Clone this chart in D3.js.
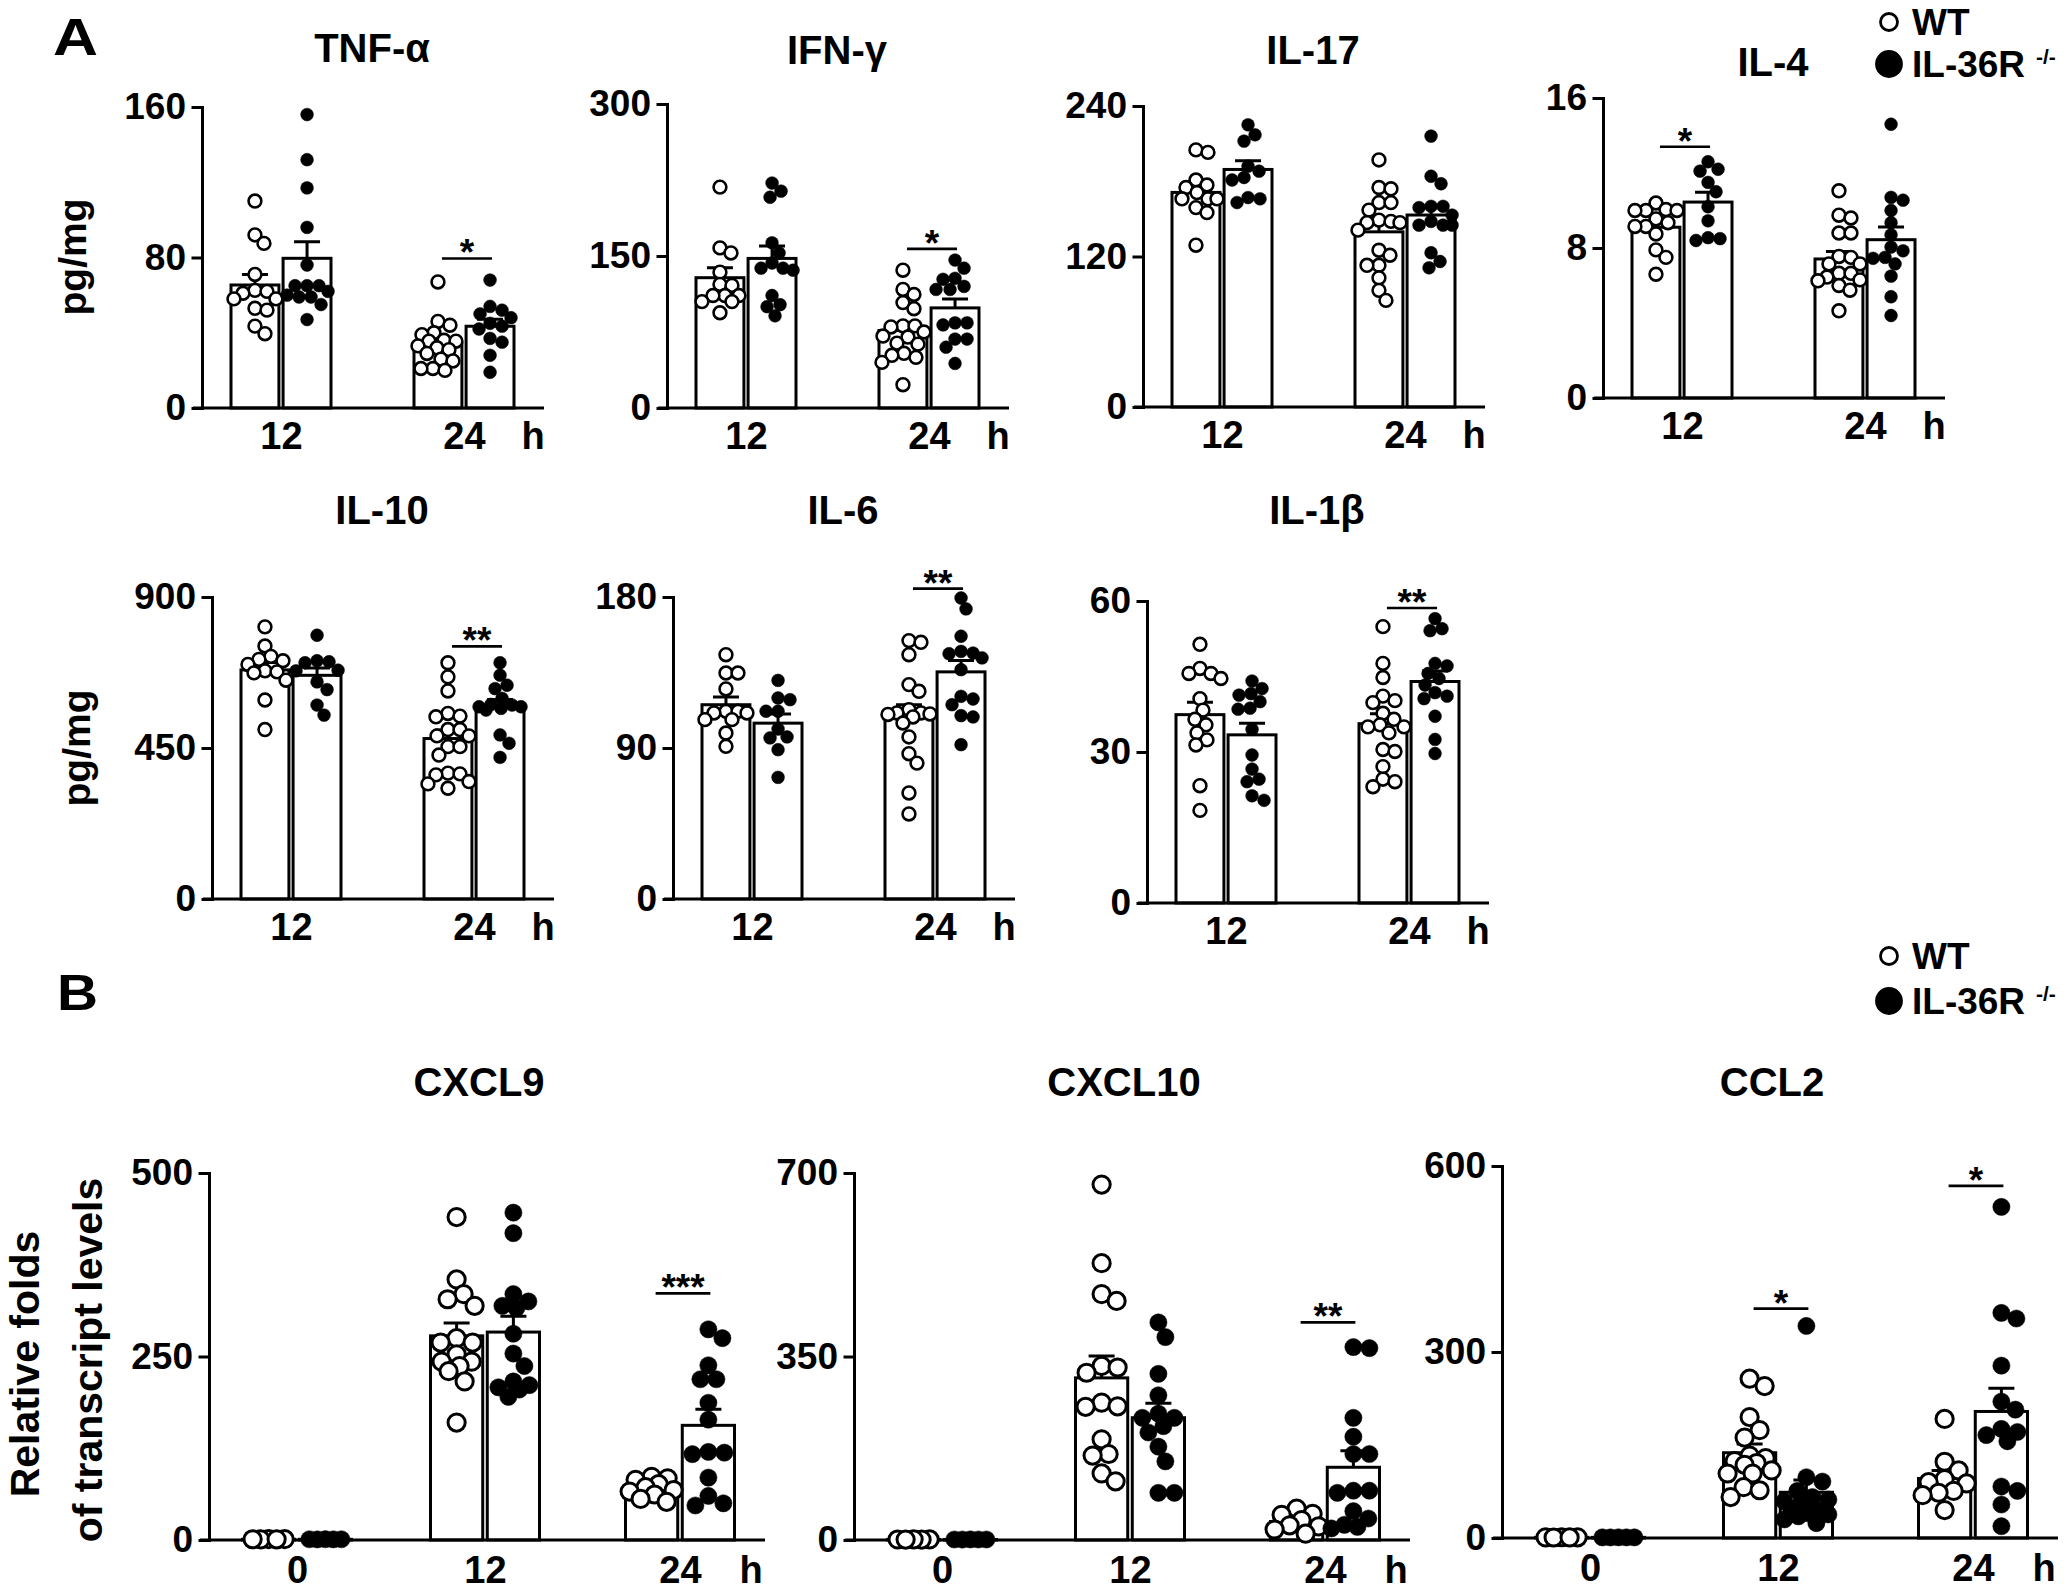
<!DOCTYPE html>
<html lang="en">
<head>
<meta charset="UTF-8">
<title>IL-36R cytokines and chemokines</title>
<style>
    body { margin: 0; background: #fff; }
    svg text { font-family: "Liberation Sans", Arial, sans-serif; font-weight: bold; fill: #000; }
</style>
</head>
<body>
<svg id="fig" width="2070" height="1592"></svg>

<script src="https://d3js.org/d3.v7.min.js"></script>
<script>
// ---------- data ----------
const hoursA = ["12", "24"];
const hoursB = ["0", "12", "24"];
const groups = ["WT", "IL-36R"];

// TNF-alpha, pg/mg
const tnfTicks = [0, 80, 160];
const tnfWT12 = [110, 92, 87.5, 71, 62.5, 62, 61, 58, 58, 53, 52, 43.5, 39.5];
const tnfKO12 = [156, 132, 117, 96, 76, 65, 65, 65, 62, 60, 59, 59, 55, 47];
const tnfWT24 = [67, 46, 44, 40, 39, 36, 35.5, 35.5, 33, 32, 31, 29, 26, 25, 21, 21, 20];
const tnfKO24 = [68, 54, 52, 50, 48, 45, 43.5, 42, 37, 35, 28, 19];
const tnfSig = [{ hour: "24", text: "*", value: 79.5 }];

// IFN-gamma
const ifnTicks = [0, 150, 300];
const ifnWT12 = [218, 158, 153, 134, 122, 121, 111, 111, 111, 105, 105, 94];
const ifnKO12 = [222, 214, 208, 163, 153, 143, 138, 138, 136, 111, 102, 100, 91];
const ifnWT24 = [136, 117, 112, 104, 98, 81, 81, 80, 75, 71, 70, 64, 63, 54, 52, 50, 45, 23];
const ifnKO24 = [146, 138, 128, 127, 120, 117, 117, 84, 84, 82, 68, 68, 60, 44];
const ifnSig = [{ hour: "24", text: "*", value: 157 }];

// IL-17
const il17Ticks = [0, 120, 240];
const il17WT12 = [205, 203, 181, 177, 175, 171, 166, 166, 166, 159, 155, 129];
const il17KO12 = [225, 217, 212, 192, 188, 183, 181, 167, 166, 163];
const il17WT24 = [197, 175, 174, 163, 163, 157, 149, 148, 147, 147, 141, 125, 121, 113, 113, 103, 93, 85];
const il17KO24 = [216, 184, 178, 160, 160, 159, 153, 148, 145, 145, 145, 123, 116, 111];
const il17Sig = [];

// IL-4
const il4Ticks = [0, 8, 16];
const il4WT12 = [10.4, 10.05, 10, 10, 10, 9.55, 9.35, 9.15, 9.15, 8.75, 7.9, 7.5, 6.6];
const il4KO12 = [12.6, 12.2, 12.1, 11.5, 11, 10.2, 9.45, 8.55, 8.5, 8.4];
const il4WT24 = [11.05, 9.75, 9.6, 8.8, 8.8, 7.55, 7.5, 7.15, 7.15, 6.65, 6.65, 6.45, 6.3, 6.25, 6, 5.75, 4.65];
const il4KO24 = [14.6, 10.7, 10.55, 10, 9.35, 8.7, 8.05, 7.85, 7.5, 7.45, 7.15, 6.5, 5.4, 4.4];
const il4Sig = [{ hour: "12", text: "*", value: 13.4 }];

// IL-10
const il10Ticks = [0, 450, 900];
const il10WT12 = [811, 754, 723, 714, 710, 699, 680, 677, 674, 652, 593, 505];
const il10KO12 = [786, 710, 707, 704, 682, 680, 647, 624, 578, 548];
const il10WT24 = [704, 662, 620, 553, 545, 543, 505, 505, 486, 486, 454, 454, 429, 375, 373, 370, 350, 343, 330];
const il10KO24 = [704, 667, 637, 627, 598, 580, 578, 573, 573, 568, 563, 489, 464, 422];
const il10Sig = [{ hour: "24", text: "**", value: 753 }];

// IL-6
const il6Ticks = [0, 90, 180];
const il6WT12 = [145.6, 134.7, 134.7, 125.2, 111.9, 111.9, 110.9, 110.9, 106.9, 106.9, 98.9, 91];
const il6KO12 = [130.3, 119.8, 118.8, 111.9, 111.9, 101.3, 96.6, 96, 89, 72.5];
const il6WT24 = [154, 153, 145.6, 127.8, 123.8, 112.9, 110.9, 110.9, 110.3, 110, 108.5, 104.9, 96.6, 86.6, 81, 63.2, 50.7];
const il6KO24 = [179.4, 172.9, 156.6, 147.6, 146.6, 146.2, 143.7, 136.7, 120.8, 119.2, 115.8, 109.3, 108.5, 92];
const il6Sig = [{ hour: "24", text: "**", value: 185 }];

// IL-1beta
const il1bTicks = [0, 30, 60];
const il1bWT12 = [51.4, 46.6, 45.6, 45.6, 44.6, 40.6, 38.3, 36.5, 35.4, 33.8, 32.4, 31.4, 23.3, 18.4];
const il1bKO12 = [44.1, 42.6, 41.6, 41.3, 40, 38.7, 38.5, 34.5, 29.4, 26.6, 24.6, 24.1, 21.3, 20.4];
const il1bWT24 = [54.9, 47.6, 44.8, 41.1, 40.2, 39.8, 37.7, 36.5, 35.4, 35, 35, 33.8, 30.5, 30.1, 27.1, 24.6, 24.1, 23.1];
const il1bKO24 = [56.5, 54.5, 54.1, 47.6, 47.1, 45.6, 44.6, 43.3, 41.8, 41.1, 40.6, 37.1, 32.5, 29.7];
const il1bSig = [{ hour: "24", text: "**", value: 58.6 }];

// CXCL9, relative folds
const cxcl9Ticks = [0, 250, 500];
const cxcl9WT0 = [1.2, 0.8, 1, 1.1, 0.9];
const cxcl9KO0 = [1, 0.9, 1.1, 1, 0.8];
const cxcl9WT12 = [440, 355, 335, 328, 319, 275, 269, 269, 253, 243, 243, 237, 230, 216, 160];
const cxcl9KO12 = [446, 418, 335, 325, 319, 316, 281, 254, 237, 216, 211, 208, 205, 195];
const cxcl9WT24 = [86, 84, 82, 76, 72, 68, 66, 62, 56, 52];
const cxcl9KO24 = [287, 275, 238, 219, 219, 187, 164, 120, 119, 117, 85, 60, 50, 47];
const cxcl9Sig = [{ hour: "24", text: "***", value: 336 }];

// CXCL10
const cxcl10Ticks = [0, 350, 700];
const cxcl10WT0 = [1.1, 0.9, 1, 1.2, 0.8];
const cxcl10KO0 = [1, 1.1, 0.9, 1, 1];
const cxcl10WT12 = [678, 528, 469, 456, 332, 329, 319, 262, 255, 254, 192, 164, 161, 127, 112];
const cxcl10KO12 = [415, 387, 317, 276, 241, 233, 233, 217, 205, 178, 150, 90, 90];
const cxcl10WT24 = [60, 50, 48, 38, 28, 26, 20, 12];
const cxcl10KO24 = [368, 366, 233, 197, 164, 164, 94, 94, 90, 55, 41, 29, 25, 22];
const cxcl10Sig = [{ hour: "24", text: "**", value: 415 }];

// CCL2
const ccl2Ticks = [0, 300, 600];
const ccl2WT0 = [1, 1.2, 0.8, 1.1, 0.9];
const ccl2KO0 = [1, 0.9, 1.1, 1, 1];
const ccl2WT12 = [257, 245, 195, 174, 162, 133, 129, 124, 121, 118, 109, 104, 104, 82, 77, 66];
const ccl2KO12 = [342, 98, 91, 76, 66, 62, 59, 55, 45, 45, 40, 38, 35, 30, 24];
const ccl2WT24 = [192, 123, 109, 95, 90, 88, 76, 73, 69, 45];
const ccl2KO24 = [534, 363, 354, 278, 220, 207, 176, 171, 166, 156, 83, 76, 54, 19];
const ccl2Sig = [{ hour: "12", text: "*", value: 370 }, { hour: "24", text: "*", value: 568 }];

// ---------- layout ----------
const styleA = { groupPos: [79, 262], lineEnd: 342, hPos: 331, barRange: [-50, 50],
                 r: 6.4, sw: 2.6, maxHalf: 21, titleDx: 170, labelDy: 41 };
const styleB = { groupPos: [88, 276, 471], lineEnd: 556, hPos: 542, barRange: [-54.5, 54.5],
                 r: 8.6, sw: 3, maxHalf: 22, titleDx: 270, labelDy: 43 };

const panels = [
    { title: "TNF-α", ticks: tnfTicks, hours: hoursA, sig: tnfSig, style: styleA,
      data: { "12": [tnfWT12, tnfKO12], "24": [tnfWT24, tnfKO24] },
      box: { x: 202, top: 107, bottom: 408, titleY: 62 } },
    { title: "IFN-γ", ticks: ifnTicks, hours: hoursA, sig: ifnSig, style: styleA,
      data: { "12": [ifnWT12, ifnKO12], "24": [ifnWT24, ifnKO24] },
      box: { x: 667, top: 104, bottom: 408, titleY: 64 } },
    { title: "IL-17", ticks: il17Ticks, hours: hoursA, sig: il17Sig, style: styleA,
      data: { "12": [il17WT12, il17KO12], "24": [il17WT24, il17KO24] },
      box: { x: 1143, top: 106, bottom: 407, titleY: 64 } },
    { title: "IL-4", ticks: il4Ticks, hours: hoursA, sig: il4Sig, style: styleA,
      data: { "12": [il4WT12, il4KO12], "24": [il4WT24, il4KO24] },
      box: { x: 1603, top: 98, bottom: 398, titleY: 76 } },
    { title: "IL-10", ticks: il10Ticks, hours: hoursA, sig: il10Sig, style: styleA,
      data: { "12": [il10WT12, il10KO12], "24": [il10WT24, il10KO24] },
      box: { x: 212, top: 597, bottom: 899, titleY: 524 } },
    { title: "IL-6", ticks: il6Ticks, hours: hoursA, sig: il6Sig, style: styleA,
      data: { "12": [il6WT12, il6KO12], "24": [il6WT24, il6KO24] },
      box: { x: 673, top: 597, bottom: 899, titleY: 524 } },
    { title: "IL-1β", ticks: il1bTicks, hours: hoursA, sig: il1bSig, style: styleA,
      data: { "12": [il1bWT12, il1bKO12], "24": [il1bWT24, il1bKO24] },
      box: { x: 1147, top: 601, bottom: 903, titleY: 524 } },
    { title: "CXCL9", ticks: cxcl9Ticks, hours: hoursB, sig: cxcl9Sig, style: styleB,
      data: { "0": [cxcl9WT0, cxcl9KO0], "12": [cxcl9WT12, cxcl9KO12], "24": [cxcl9WT24, cxcl9KO24] },
      box: { x: 209, top: 1173, bottom: 1540, titleY: 1096 } },
    { title: "CXCL10", ticks: cxcl10Ticks, hours: hoursB, sig: cxcl10Sig, style: styleB,
      data: { "0": [cxcl10WT0, cxcl10KO0], "12": [cxcl10WT12, cxcl10KO12], "24": [cxcl10WT24, cxcl10KO24] },
      box: { x: 854, top: 1173, bottom: 1540, titleY: 1096 } },
    { title: "CCL2", ticks: ccl2Ticks, hours: hoursB, sig: ccl2Sig, style: styleB,
      data: { "0": [ccl2WT0, ccl2KO0], "12": [ccl2WT12, ccl2KO12], "24": [ccl2WT24, ccl2KO24] },
      box: { x: 1502, top: 1166, bottom: 1538, titleY: 1096 } }
];

const svg = d3.select("#fig");

// simple beeswarm: nearest free x offset, squeezed inside maxHalf
function swarm(vals, y, r, maxHalf) {
    const minD = 2 * r * 0.93;
    const order = d3.range(vals.length).sort((a, b) => vals[b] - vals[a]);
    const placed = [];
    const out = new Array(vals.length);
    order.forEach(i => {
        const py = y(vals[i]);
        let best = 0, bestScore = -Infinity;
        for (let k = 0; k <= 2 * maxHalf; k++) {
            const dx = (k % 2 ? 1 : -1) * Math.ceil(k / 2);
            if (Math.abs(dx) > maxHalf) continue;
            let near = Infinity;
            placed.forEach(p => { near = Math.min(near, Math.hypot(dx - p.dx, py - p.py)); });
            if (near >= minD) { best = dx; break; }
            if (near > bestScore) { bestScore = near; best = dx; }
        }
        placed.push({ dx: best, py: py });
        out[i] = { dx: best, py: py, v: vals[i] };
    });
    return out;
}

function drawPanel(p) {
    const st = p.style, b = p.box;
    const g = svg.append("g");

    const y = d3.scaleLinear().domain([0, d3.max(p.ticks)]).range([b.bottom, b.top]);
    const x = d3.scaleOrdinal().domain(p.hours).range(st.groupPos.map(d => b.x + d));
    const sub = d3.scaleBand().domain(groups).range(st.barRange).paddingInner(0.08);

    // bars + SEM
    const stats = [];
    p.hours.forEach(h => {
        groups.forEach((grp, gi) => {
            const vals = p.data[h][gi];
            const m = d3.mean(vals);
            const sem = d3.deviation(vals) / Math.sqrt(vals.length);
            const x0 = x(h) + sub(grp);
            stats.push({ h, grp, gi, vals, m, sem, x0, cx: x0 + sub.bandwidth() / 2 });
        });
    });

    g.selectAll("rect.bar").data(stats).join("rect")
        .attr("class", "bar")
        .attr("x", d => d.x0).attr("y", d => y(d.m))
        .attr("width", sub.bandwidth()).attr("height", d => y(0) - y(d.m))
        .attr("fill", "#fff").attr("stroke", "#000").attr("stroke-width", 3);

    g.selectAll("path.err").data(stats).join("path")
        .attr("class", "err")
        .attr("d", d => `M${d.cx},${y(d.m)}V${y(d.m + d.sem)}M${d.cx - 13},${y(d.m + d.sem)}H${d.cx + 13}`)
        .attr("fill", "none").attr("stroke", "#000").attr("stroke-width", 3);

    // y axis
    const ya = g.append("g").attr("transform", `translate(${b.x},0)`)
        .call(d3.axisLeft(y).tickValues(p.ticks).tickSize(9).tickSizeOuter(0).tickPadding(7));
    ya.selectAll("path, line").attr("stroke", "#000").attr("stroke-width", 3).attr("stroke-linecap", "square");
    ya.selectAll("text").style("font-size", "37px");

    // x axis line and hour labels
    g.append("line")
        .attr("x1", b.x - 9).attr("x2", b.x + st.lineEnd)
        .attr("y1", y(0)).attr("y2", y(0))
        .attr("stroke", "#000").attr("stroke-width", 3);
    const xa = g.append("g").attr("transform", `translate(0,${y(0)})`)
        .call(d3.axisBottom(x).tickSize(0).tickPadding(0));
    xa.select(".domain").remove();
    xa.selectAll("text").attr("dy", null).attr("y", st.labelDy).style("font-size", "38px");
    g.append("text").attr("x", b.x + st.hPos).attr("y", y(0) + st.labelDy)
        .attr("text-anchor", "middle").style("font-size", "38px").text("h");

    // title
    g.append("text").attr("x", b.x + st.titleDx).attr("y", b.titleY)
        .attr("text-anchor", "middle").style("font-size", "40px").text(p.title);

    // significance
    p.sig.forEach(s => {
        const wt = stats.find(d => d.h === s.hour && d.gi === 0);
        const ko = stats.find(d => d.h === s.hour && d.gi === 1);
        g.append("line").attr("x1", wt.cx + 4).attr("x2", ko.cx + 2)
            .attr("y1", y(s.value)).attr("y2", y(s.value))
            .attr("stroke", "#000").attr("stroke-width", 2.6);
        g.append("text").attr("x", (wt.cx + ko.cx) / 2 + 3).attr("y", y(s.value) + 7)
            .attr("text-anchor", "middle").style("font-size", "37px").text(s.text);
    });

    // points
    stats.forEach(d => {
        const pts = swarm(d.vals, y, st.r, st.maxHalf);
        g.selectAll(null).data(pts).join("circle")
            .attr("cx", q => d.cx + q.dx).attr("cy", q => q.py).attr("r", st.r)
            .attr("fill", d.gi === 0 ? "#fff" : "#000")
            .attr("stroke", "#000").attr("stroke-width", d.gi === 0 ? st.sw : 0.5);
    });
}

panels.forEach(drawPanel);

// panel letters
svg.append("text").attr("x", 53).attr("y", 55).style("font-size", "52px")
    .attr("textLength", 45).attr("lengthAdjust", "spacingAndGlyphs").text("A");
svg.append("text").attr("x", 57).attr("y", 1010).style("font-size", "50px")
    .attr("textLength", 41).attr("lengthAdjust", "spacingAndGlyphs").text("B");

// y labels
function rotLabel(x, y, txt, size) {
    svg.append("text").attr("transform", `translate(${x},${y}) rotate(-90)`)
        .attr("text-anchor", "middle").style("font-size", size + "px").text(txt);
}
rotLabel(86, 257, "pg/mg", 39);
rotLabel(90, 748, "pg/mg", 39);
rotLabel(39, 1364, "Relative folds", 41);
rotLabel(102, 1360, "of transcript levels", 41);

// legends
function legend(x, y0, gap) {
    const lg = svg.append("g").attr("transform", `translate(${x},${y0})`);
    lg.selectAll("circle").data(groups).join("circle")
        .attr("cx", 0).attr("cy", (d, i) => i * gap)
        .attr("r", (d, i) => i ? 12.5 : 8.5)
        .attr("fill", (d, i) => i ? "#000" : "#fff")
        .attr("stroke", "#000").attr("stroke-width", 2.8);
    lg.selectAll("text.lab").data(groups).join("text")
        .attr("class", "lab")
        .attr("x", 23).attr("y", (d, i) => i * gap + 13)
        .style("font-size", "37px").text(d => d);
    lg.append("text").attr("x", 147).attr("y", gap)
        .style("font-size", "21px").text("-/-");
}
legend(1889, 22, 42);
legend(1889, 956, 45);
</script>
</body>
</html>
